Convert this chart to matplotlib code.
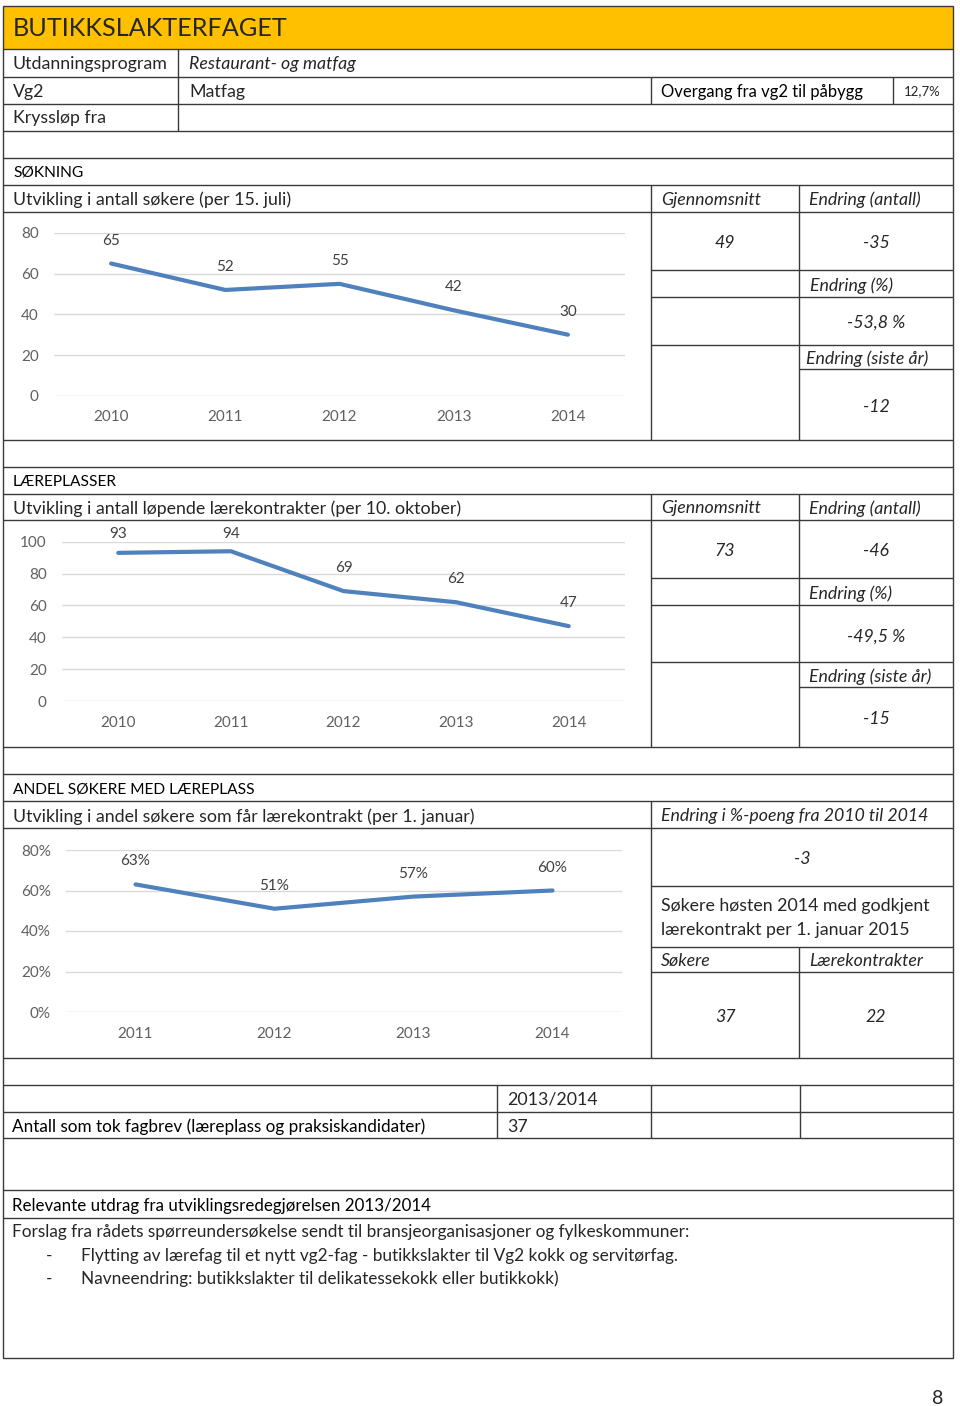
import numpy as np
import matplotlib
matplotlib.use('Agg')
import matplotlib.pyplot as plt
from matplotlib.patches import Rectangle
from matplotlib.ticker import FuncFormatter

W, H = 960, 1406
plt.rcParams['font.family'] = ['Lato', 'DejaVu Sans']

# --- data ---
years = ['2010', '2011', '2012', '2013', '2014']
sokere = [65, 52, 55, 42, 30]
laerekontrakter = [93, 94, 69, 62, 47]
andel_years = ['2011', '2012', '2013', '2014']
andel = [0.63, 0.51, 0.57, 0.60]

sok_stats = ['49', '-35', '-53,8 %', '-12']
lp_stats = ['73', '-46', '-49,5 %', '-15']
andel_endring = '-3'
hosten_sokere, hosten_kontrakter = '37', '22'
overgang = '12,7%'
fagbrev_aar, fagbrev_antall = '2013/2014', '37'
utdrag = [
    'Flytting av lærefag til et nytt vg2-fag - butikkslakter til Vg2 kokk og servitørfag.',
    'Navneendring: butikkslakter til delikatessekokk eller butikkokk)',
]

LINE = '#3a3a3a'
TXT = '#262626'
BLUE = '#4F81BD'
BODY = 12.8
DY = 1.5  # va='center' sits a little high compared with the page text

fig = plt.figure(figsize=(W / 100, H / 100), dpi=100)
bg = fig.add_axes([0, 0, 1, 1])
bg.set_xlim(0, W)
bg.set_ylim(H, 0)
bg.axis('off')


def hline(y, x0=3, x1=953):
    bg.plot([x0, x1], [y, y], color=LINE, lw=1.0, solid_capstyle='butt')


def vline(x, y0, y1):
    bg.plot([x, x], [y0, y1], color=LINE, lw=1.0, solid_capstyle='butt')


def txt(x, y, s, size=BODY, **kw):
    kw.setdefault('color', TXT)
    bg.text(x, y + DY, s, va='center', fontsize=size, **kw)


def head(x, y, s, size=11.2):
    bg.text(x, y + DY, s, va='center', fontsize=size, color='#000000')


def line_chart(x0, x1, top, bottom, cats, vals, ymax, step, fmt):
    ax = fig.add_axes([x0 / W, 1 - bottom / H, (x1 - x0) / W, (bottom - top) / H])
    ax.patch.set_alpha(0)
    ax.set_xlim(-0.5, len(cats) - 0.5)
    ax.set_ylim(0, ymax)
    ax.plot(range(len(cats)), vals, color=BLUE, lw=3, solid_joinstyle='round',
            solid_capstyle='round', clip_on=False)
    ax.set_yticks(np.arange(0, ymax + step / 2, step))
    ax.yaxis.set_major_formatter(FuncFormatter(lambda v, p: fmt(v)))
    ax.set_xticks(range(len(cats)))
    ax.set_xticklabels(cats)
    ax.grid(axis='y', color='#D9D9D9', lw=1)
    ax.set_axisbelow(True)
    ax.tick_params(axis='both', length=0, labelsize=11, labelcolor='#606060')
    ax.tick_params(axis='y', pad=11)
    ax.tick_params(axis='x', pad=10.5)
    for s in ax.spines.values():
        s.set_visible(False)
    for i, v in enumerate(vals):
        py = bottom - v / ymax * (bottom - top)
        ly = max(py - 23, top - 8)
        ax.annotate(fmt(v), (i, v), xytext=(0, py - ly), textcoords='offset pixels',
                    ha='center', va='center', fontsize=11, color='#404040',
                    annotation_clip=False)
    return ax


# header
bg.add_patch(Rectangle((3, 6), 950, 43, facecolor='#FFC000', edgecolor='none'))
bg.add_patch(Rectangle((3, 6), 950, 1352, facecolor='none', edgecolor=LINE, lw=1.0))

for y in [49, 77, 104, 131, 158, 185, 212, 440, 467, 494, 520, 747, 774, 801,
          828, 1058, 1085, 1112, 1138, 1190, 1218]:
    hline(y)

vline(178, 49, 131)
vline(651, 77, 104)
vline(893, 77, 104)

# right panels
for y0, y1 in [(185, 440), (494, 747)]:
    vline(651, y0, y1)
    vline(799, y0, y1)
for y in [270, 297, 345, 578, 605, 662]:
    hline(y, 651, 953)
for y in [369, 687]:
    hline(y, 799, 953)
vline(651, 801, 1058)
vline(799, 947, 1058)
for y in [886, 947, 972]:
    hline(y, 651, 953)
for x in [497, 651, 800]:
    vline(x, 1085, 1138)

# top block texts
txt(13, 27, 'BUTIKKSLAKTERFAGET', size=18.2)
txt(13, 63, 'Utdanningsprogram')
txt(189, 63, 'Restaurant- og matfag', style='italic')
txt(13, 90, 'Vg2')
txt(189, 90, 'Matfag')
head(661, 90, 'Overgang fra vg2 til påbygg', size=12)
txt(904, 90, overgang, size=9.5)
txt(13, 117, 'Kryssløp fra')

# SØKNING
head(13, 171, 'SØKNING')
txt(13, 198, 'Utvikling i antall søkere (per 15. juli)')
txt(661, 198, 'Gjennomsnitt', style='italic')
txt(809, 198, 'Endring (antall)', style='italic')
txt(725, 241, sok_stats[0], style='italic', ha='center')
txt(876, 241, sok_stats[1], style='italic', ha='center')
txt(810, 284, 'Endring (%)', style='italic')
txt(876, 321, sok_stats[2], style='italic', ha='center')
txt(806, 357, 'Endring (siste år)', style='italic')
txt(876, 405, sok_stats[3], style='italic', ha='center')

line_chart(54, 625, 233, 395.7, years, sokere, 80, 20, lambda v: f'{v:.0f}')

# LÆREPLASSER
head(13, 481, 'LÆREPLASSER')
txt(13, 507, 'Utvikling i antall løpende lærekontrakter (per 10. oktober)')
txt(661, 507, 'Gjennomsnitt', style='italic')
txt(809, 507, 'Endring (antall)', style='italic')
txt(725, 550, lp_stats[0], style='italic', ha='center')
txt(876, 550, lp_stats[1], style='italic', ha='center')
txt(809, 592, 'Endring (%)', style='italic')
txt(876, 635, lp_stats[2], style='italic', ha='center')
txt(809, 675, 'Endring (siste år)', style='italic')
txt(876, 717, lp_stats[3], style='italic', ha='center')

line_chart(62, 625, 541.7, 701, years, laerekontrakter, 100, 20, lambda v: f'{v:.0f}')

# ANDEL
head(13, 788, 'ANDEL SØKERE MED LÆREPLASS')
txt(13, 815, 'Utvikling i andel søkere som får lærekontrakt (per 1. januar)')
txt(661, 815, 'Endring i %-poeng fra 2010 til 2014', style='italic')
txt(802, 858, andel_endring, style='italic', ha='center')
txt(661, 905, 'Søkere høsten 2014 med godkjent')
txt(661, 929, 'lærekontrakt per 1. januar 2015')
txt(661, 960, 'Søkere', style='italic')
txt(809, 960, 'Lærekontrakter', style='italic')
txt(725, 1015, hosten_sokere, style='italic', ha='center')
txt(876, 1015, hosten_kontrakter, style='italic', ha='center')

line_chart(66, 622, 850, 1012, andel_years, andel, 0.8, 0.2, lambda v: f'{v * 100:.0f}%')

# fagbrev
txt(507, 1098, fagbrev_aar)
head(12, 1125, 'Antall som tok fagbrev (læreplass og praksiskandidater)', size=12.3)
txt(507, 1125, fagbrev_antall)

# utdrag
head(12, 1204, 'Relevante utdrag fra utviklingsredegjørelsen 2013/2014', size=12.2)
txt(12, 1231, 'Forslag fra rådets spørreundersøkelse sendt til bransjeorganisasjoner og fylkeskommuner:',
    size=12.4)
for i, s in enumerate(utdrag):
    txt(46, 1254 + 23 * i, '-', size=12.4)
    txt(81, 1254 + 23 * i, s, size=12.4)

txt(938, 1397, '8', size=14, ha='center')

fig.savefig('out.png', dpi=100)
